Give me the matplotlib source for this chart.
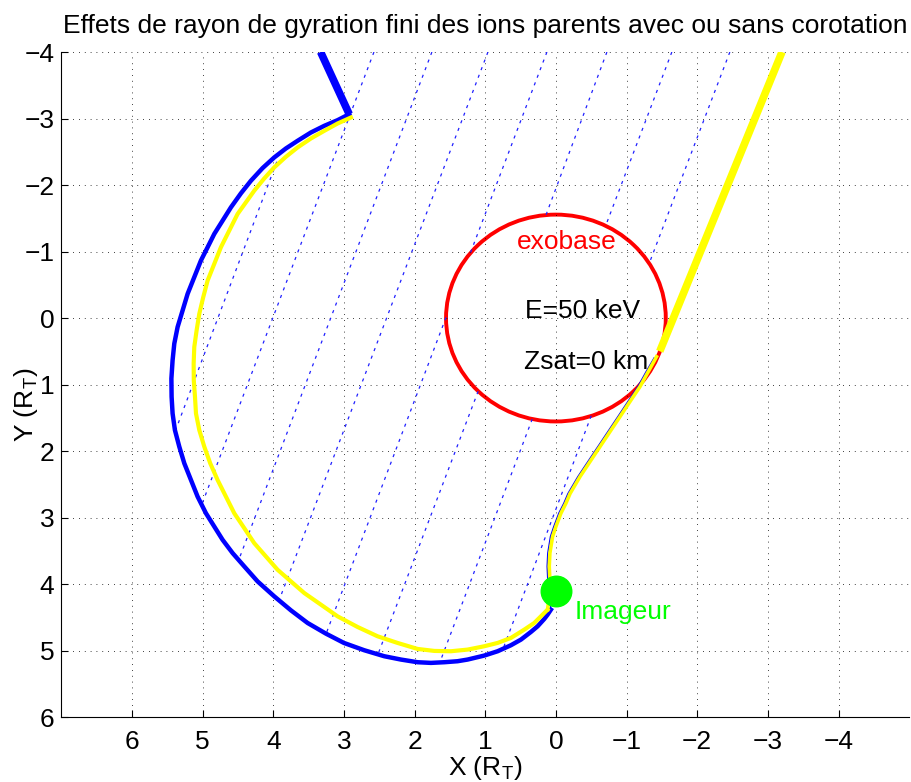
import matplotlib.pyplot as plt
from matplotlib.patches import Circle

plt.rcParams['font.family'] = ['Liberation Sans', 'DejaVu Sans']
plt.rcParams['mathtext.fontset'] = 'custom'
plt.rcParams['mathtext.rm'] = 'Liberation Sans'

# trajectory with finite gyroradius (blue), main arc from the cusp round to the imager
blue_x = [2.925, 3.090, 3.278, 3.467, 3.656, 3.821, 3.986, 4.151, 4.316, 4.458, 4.599,
          4.717, 4.835, 4.929, 5.024, 5.118, 5.212, 5.283, 5.354, 5.401, 5.425, 5.442,
          5.439, 5.425, 5.392, 5.330, 5.259, 5.165, 5.071, 4.953, 4.835, 4.717, 4.575,
          4.410, 4.222, 3.986, 3.750, 3.514, 3.255, 3.000, 2.712, 2.429, 2.193, 1.958,
          1.769, 1.580, 1.392, 1.250, 1.014, 0.825, 0.637, 0.495, 0.354, 0.259, 0.165,
          0.118, 0.071]
blue_y = [-3.065, -2.975, -2.890, -2.790, -2.665, -2.550, -2.415, -2.255, -2.065, -1.875, -1.665,
          -1.465, -1.265, -1.065, -0.865, -0.615, -0.365, -0.115, 0.135, 0.385, 0.635, 0.910,
          1.185, 1.435, 1.685, 1.935, 2.185, 2.435, 2.685, 2.935, 3.135, 3.335, 3.535,
          3.735, 3.960, 4.185, 4.395, 4.585, 4.745, 4.885, 4.995, 5.085, 5.135, 5.175,
          5.185, 5.175, 5.160, 5.135, 5.075, 5.010, 4.920, 4.835, 4.720, 4.635, 4.525,
          4.460, 4.385]
# thin blue branch from the imager up to the exobase
blue_up_x = [0.071, 0.11, 0.124, 0.115, 0.077, 0.03, -0.041, -0.112, -0.17, -0.31, -0.498,
             -0.687, -0.876, -1.017, -1.159, -1.276, -1.39]
blue_up_y = [4.385, 4.05, 3.735, 3.535, 3.285, 3.135, 2.935, 2.785, 2.64, 2.386, 2.086,
             1.785, 1.484, 1.258, 1.033, 0.808, 0.60]
blue_thick_x = [2.925, 3.33]
blue_thick_y = [-3.065, -4.0]

# trajectory without (yellow)
yel_x = [2.901, 3.090, 3.278, 3.467, 3.656, 3.821, 3.986, 4.127, 4.269, 4.387, 4.505,
         4.623, 4.741, 4.835, 4.929, 4.991, 5.047, 5.085, 5.118, 5.127, 5.125, 5.108,
         5.094, 5.047, 4.976, 4.892, 4.788, 4.670, 4.552, 4.410, 4.269, 4.104, 3.939,
         3.750, 3.561, 3.325, 3.090, 2.807, 2.524, 2.241, 1.958, 1.722, 1.486, 1.250,
         1.014, 0.825, 0.637, 0.448, 0.307, 0.189, 0.118]
yel_y = [-3.015, -2.925, -2.815, -2.700, -2.565, -2.425, -2.265, -2.100, -1.915, -1.740, -1.565,
         -1.315, -1.065, -0.815, -0.565, -0.315, -0.065, 0.185, 0.435, 0.685, 0.935, 1.185,
         1.435, 1.685, 1.935, 2.185, 2.435, 2.685, 2.935, 3.160, 3.385, 3.585, 3.785,
         3.960, 4.135, 4.310, 4.485, 4.645, 4.785, 4.885, 4.975, 5.005, 5.010, 4.985,
         4.935, 4.885, 4.810, 4.685, 4.585, 4.460, 4.385]
yel_up_x = [0.118, 0.08, 0.094, 0.085, 0.047, 0.0, -0.071, -0.142, -0.20, -0.34, -0.528,
            -0.717, -0.906, -1.047, -1.189, -1.306, -1.424]
yel_up_y = [4.385, 4.05, 3.735, 3.535, 3.285, 3.135, 2.935, 2.785, 2.64, 2.386, 2.086,
            1.785, 1.484, 1.258, 1.033, 0.808, 0.582]
yel_thick_x = [-1.47, -3.20]
yel_thick_y = [0.50, -4.0]

# dotted lines (segments, hidden inside the exobase)
dot_x0 = [3.95, 2.575, 1.755, 0.962, 0.127, 1.555, -0.722, 1.10, -1.641, 0.335, -2.462, -0.50]
dot_y0 = [-2.35, -4.0, -4.0, -4.0, -4.0, -0.01, -4.0, 1.10, -4.0, 1.52, -4.0, 1.47]
dot_x1 = [5.38, 5.01, 4.49, 3.92, 1.21, 3.25, 0.14, 2.52, -0.705, 1.64, -1.32, 0.75]
dot_y1 = [1.68, 2.80, 3.64, 4.25, -0.98, 4.74, -1.55, 5.06, -1.39, 5.17, -0.82, 4.98]

exo_r = 1.555
imager_x, imager_y = 0.0, 4.11

fig = plt.figure(figsize=(9.11, 7.82), dpi=100)
ax = fig.add_axes([0.0673, 0.083, 0.9307, 0.8505])

for x0, y0, x1, y1 in zip(dot_x0, dot_y0, dot_x1, dot_y1):
    ax.plot([x0, x1], [y0, y1], color='#2020ff', lw=0.9, dashes=(2.5, 4.0))

ax.plot(blue_x, blue_y, color='#0000ff', lw=3.2, solid_joinstyle='round')
ax.plot(blue_up_x, blue_up_y, color='#0000ff', lw=1.0)
ax.plot(blue_thick_x, blue_thick_y, color='#0000ff', lw=5.5, solid_capstyle='butt')
ax.plot(yel_x, yel_y, color='#ffff00', lw=3.0, solid_joinstyle='round')
ax.plot(yel_up_x, yel_up_y, color='#ffff00', lw=2.6, solid_joinstyle='round')
ax.plot(yel_thick_x, yel_thick_y, color='#ffff00', lw=5.5, solid_capstyle='butt')

ax.add_patch(Circle((0, 0), exo_r, fill=False, edgecolor='#ff0000', lw=2.8))
ax.plot([imager_x], [imager_y], 'o', color='#00ff00', ms=22)

fs = 19
ax.text(-0.16, -1.14, 'exobase', color='#ff0000', fontsize=fs, ha='center', va='center')
ax.text(0.44, -0.1, 'E=50 keV', color='black', fontsize=fs, ha='left', va='center')
ax.text(0.45, 0.66, 'Zsat=0 km', color='black', fontsize=fs, ha='left', va='center')
ax.text(-0.27, 4.42, 'Imageur', color='#00ff00', fontsize=fs, ha='left', va='center')

ax.set_xlim(7, -5)
ax.set_ylim(6, -4)
ax.set_xticks(range(6, -5, -1))
ax.set_yticks(range(-4, 7))
ax.grid(True, color='black', lw=0.6, linestyle=(0, (1, 6)))
ax.spines['top'].set_visible(False)
ax.spines['right'].set_visible(False)
ax.tick_params(direction='in', length=5, labelsize=fs, top=False, right=False)
ax.tick_params(axis='x', pad=9)
ax.tick_params(axis='y', pad=5)
ax.set_xlabel('X (R$_\\mathregular{T}$)', fontsize=fs, labelpad=0)
ax.set_ylabel('Y (R$_\\mathregular{T}$)', fontsize=fs)
ax.yaxis.set_label_coords(-0.025, 0.47)
ax.set_title('Effets de rayon de gyration fini des ions parents avec ou sans corotation',
             fontsize=fs, pad=14)

fig.savefig('out.png', dpi=100)
